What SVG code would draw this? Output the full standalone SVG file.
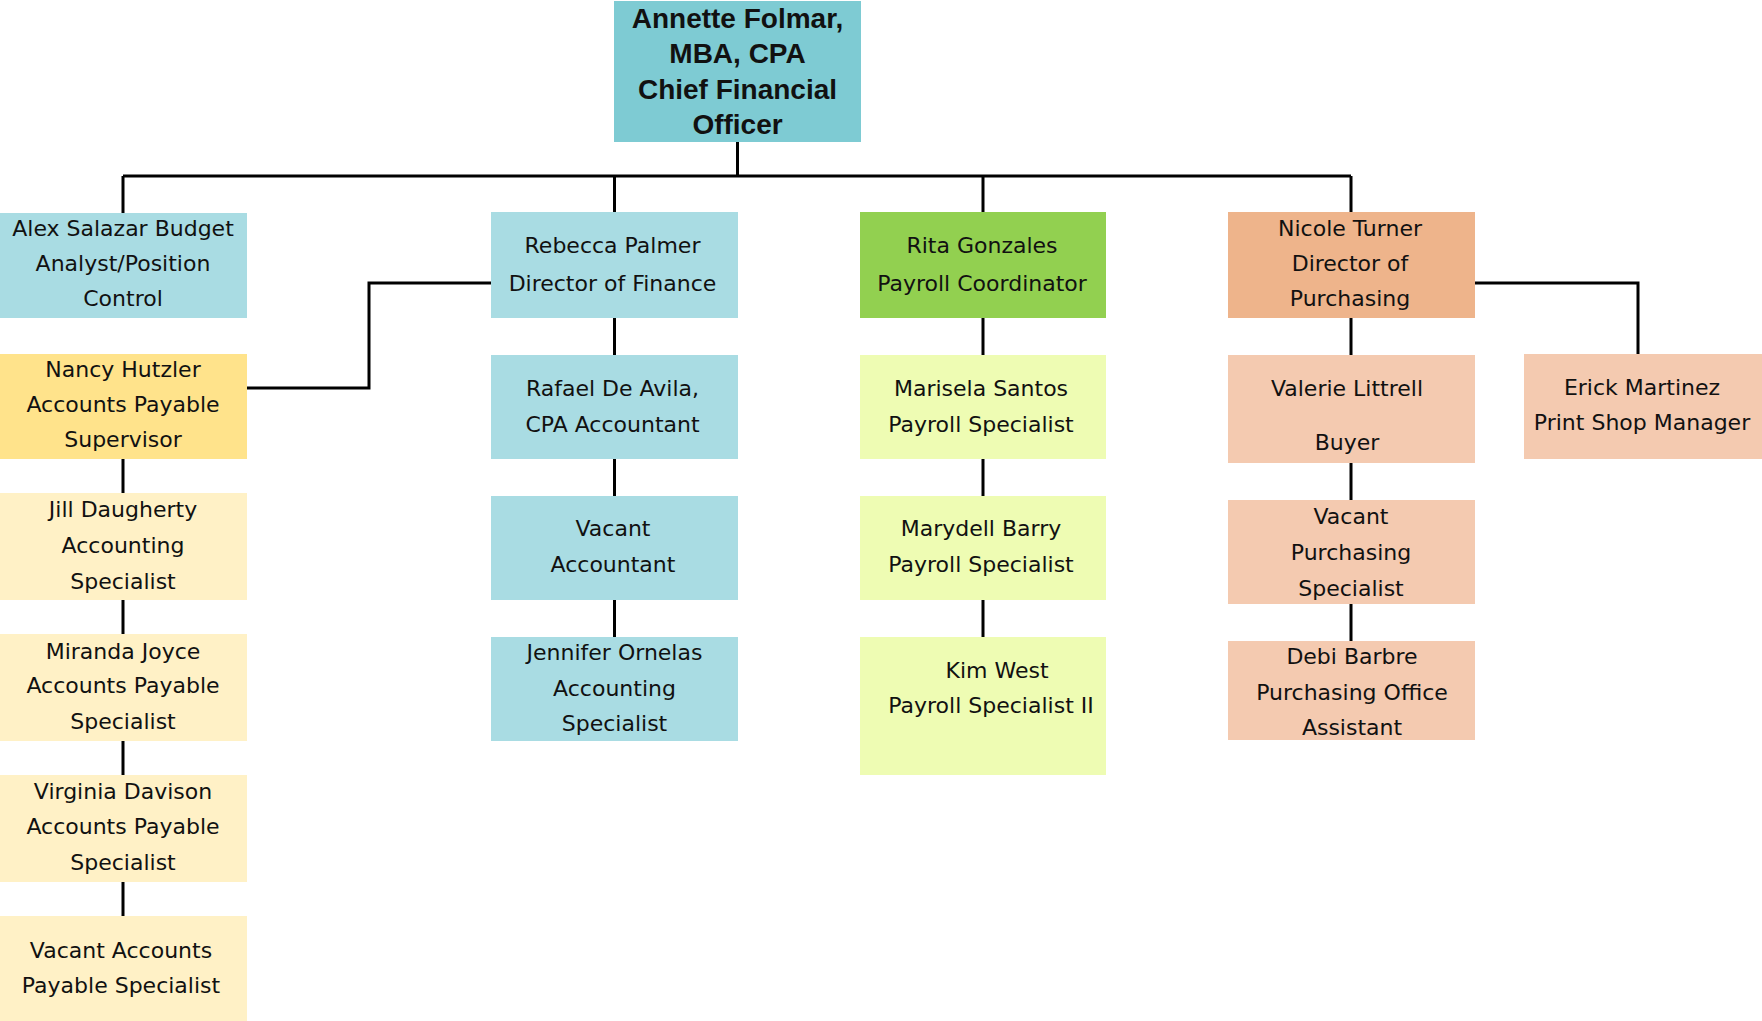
<svg xmlns="http://www.w3.org/2000/svg" width="1762" height="1021" viewBox="0 0 1762 1021">
<style>
text{font-family:"DejaVu Sans","Liberation Sans",sans-serif;font-size:22px;fill:#111;text-anchor:middle}
.top text{font-family:"Liberation Sans",Arial,sans-serif;font-weight:bold;font-size:28px}
.c{fill:none;stroke:#000;stroke-width:3}
.cfo{fill:#7ECBD3}.blue{fill:#A9DCE3}.green{fill:#92D050}.orange{fill:#EEB48B}.peach{fill:#F4CAB0}.yel{fill:#FFE38B}.cream{fill:#FFF1C6}.lime{fill:#EEFCB3}
</style>
<g id="connectors" class="c">
<path d="M737.5 142V176M123 176H1351M123 176V213M614.5 176V212M983 176V212M1351 176V212"/>
<path d="M491 283H369V388H247"/>
<path d="M1475 283H1638V354"/>
<path d="M123 459V493M123 600V634M123 741V775M123 882V916"/>
<path d="M614.5 318V355M614.5 459V496M614.5 600V637"/>
<path d="M983 318V355M983 459V496M983 600V637"/>
<path d="M1351 318V355M1351 463V500M1351 604V641"/>
</g>
<g id="cfo" class="top"><rect class="cfo" x="614" y="1" width="247" height="141"/>
<text x="737.5" y="28">Annette Folmar,</text><text x="737.5" y="63">MBA, CPA</text><text x="737.5" y="99">Chief Financial</text><text x="737.5" y="134">Officer</text></g>
<g id="alex"><rect class="blue" x="0" y="213" width="247" height="105"/>
<text x="123" y="236">Alex Salazar Budget</text><text x="123" y="271">Analyst/Position</text><text x="123" y="306">Control</text></g>
<g id="nancy"><rect class="yel" x="0" y="354" width="247" height="105"/>
<text x="123" y="377">Nancy Hutzler</text><text x="123" y="412">Accounts Payable</text><text x="123" y="447">Supervisor</text></g>
<g id="jill"><rect class="cream" x="0" y="493" width="247" height="107"/>
<text x="123" y="517">Jill Daugherty</text><text x="123" y="553">Accounting</text><text x="123" y="589">Specialist</text></g>
<g id="miranda"><rect class="cream" x="0" y="634" width="247" height="107"/>
<text x="123" y="659">Miranda Joyce</text><text x="123" y="693">Accounts Payable</text><text x="123" y="729">Specialist</text></g>
<g id="virginia"><rect class="cream" x="0" y="775" width="247" height="107"/>
<text x="123" y="799">Virginia Davison</text><text x="123" y="834">Accounts Payable</text><text x="123" y="870">Specialist</text></g>
<g id="vacant-ap"><rect class="cream" x="0" y="916" width="247" height="105"/>
<text x="121" y="958">Vacant Accounts</text><text x="121" y="993">Payable Specialist</text></g>
<g id="rebecca"><rect class="blue" x="491" y="212" width="247" height="106"/>
<text x="612.5" y="253">Rebecca Palmer</text><text x="612.5" y="291">Director of Finance</text></g>
<g id="rafael"><rect class="blue" x="491" y="355" width="247" height="104"/>
<text x="612.5" y="396">Rafael De Avila,</text><text x="612.5" y="432">CPA Accountant</text></g>
<g id="vacant-acc"><rect class="blue" x="491" y="496" width="247" height="104"/>
<text x="613" y="536">Vacant</text><text x="613" y="572">Accountant</text></g>
<g id="jennifer"><rect class="blue" x="491" y="637" width="247" height="104"/>
<text x="614.5" y="660">Jennifer Ornelas</text><text x="614.5" y="696">Accounting</text><text x="614.5" y="731">Specialist</text></g>
<g id="rita"><rect class="green" x="860" y="212" width="246" height="106"/>
<text x="982" y="253">Rita Gonzales</text><text x="982" y="291">Payroll Coordinator</text></g>
<g id="marisela"><rect class="lime" x="860" y="355" width="246" height="104"/>
<text x="981" y="396">Marisela Santos</text><text x="981" y="432">Payroll Specialist</text></g>
<g id="marydell"><rect class="lime" x="860" y="496" width="246" height="104"/>
<text x="981" y="536">Marydell Barry</text><text x="981" y="572">Payroll Specialist</text></g>
<g id="kim"><rect class="lime" x="860" y="637" width="246" height="138"/>
<text x="997" y="678">Kim West</text><text x="991" y="713">Payroll Specialist II</text></g>
<g id="nicole"><rect class="orange" x="1228" y="212" width="247" height="106"/>
<text x="1350" y="236">Nicole Turner</text><text x="1350" y="271">Director of</text><text x="1350" y="306">Purchasing</text></g>
<g id="valerie"><rect class="peach" x="1228" y="355" width="247" height="108"/>
<text x="1347" y="396">Valerie Littrell</text><text x="1347" y="450">Buyer</text></g>
<g id="vacant-purch"><rect class="peach" x="1228" y="500" width="247" height="104"/>
<text x="1351" y="524">Vacant</text><text x="1351" y="560">Purchasing</text><text x="1351" y="596">Specialist</text></g>
<g id="debi"><rect class="peach" x="1228" y="641" width="247" height="99"/>
<text x="1352" y="664">Debi Barbre</text><text x="1352" y="700">Purchasing Office</text><text x="1352" y="735">Assistant</text></g>
<g id="erick"><rect class="peach" x="1524" y="354" width="238" height="105"/>
<text x="1642" y="395">Erick Martinez</text><text x="1642" y="430">Print Shop Manager</text></g>
</svg>
